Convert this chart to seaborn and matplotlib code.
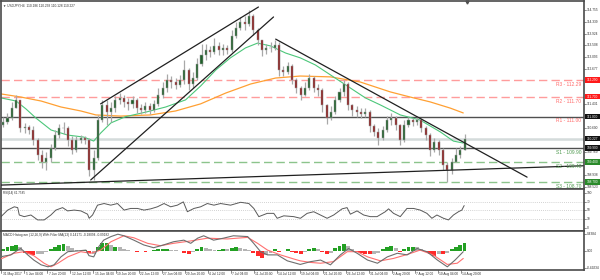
import matplotlib
matplotlib.use("Agg")
import matplotlib.pyplot as plt
import matplotlib.patches as mpatches
import numpy as np
import pandas as pd
import seaborn as sns

sns.set_theme(style="white")
plt.rcParams['font.family'] = ['Liberation Sans', 'DejaVu Sans']

# ---------------- data: 12-hour candles, USDJPY ----------------
first_open = 110.70
closes = [110.81, 110.95, 111.30, 111.59, 110.60, 110.64, 110.53, 110.18, 109.65, 109.40,
          109.54, 109.90, 110.35, 110.60, 110.60, 110.18, 109.83, 110.18, 110.25, 110.18,
          109.12, 109.54, 110.88, 111.41, 111.16, 111.30, 111.59, 111.66, 111.52, 111.45,
          111.59, 111.30, 111.23, 111.37, 111.23, 111.45, 111.76, 112.01, 112.29, 112.22,
          112.11, 112.29, 112.64, 112.15, 112.36, 112.85, 113.17, 113.35, 113.28, 113.49,
          113.35, 113.42, 113.35, 113.84, 114.12, 114.33, 114.26, 114.54, 114.05, 113.70,
          113.35, 113.42, 113.42, 113.52, 112.64, 112.57, 112.78, 112.29, 112.01, 111.76,
          112.01, 112.36, 112.01, 111.94, 111.41, 110.95, 111.16, 111.59, 111.87, 112.15,
          111.41, 111.23, 111.16, 111.09, 111.16, 110.67, 110.46, 110.25, 110.53, 110.88,
          110.95, 110.71, 110.18, 110.71, 110.88, 110.81, 110.88, 110.60, 110.35, 109.83,
          110.11, 109.83, 109.30, 109.12, 109.40, 109.65, 109.83, 110.23]
highs = [110.99, 111.13, 111.52, 111.76, 111.59, 110.78, 110.71, 110.67, 110.25, 109.83,
         109.76, 110.04, 110.53, 110.74, 110.81, 110.67, 110.32, 110.32, 110.35, 110.32,
         110.25, 109.83, 111.06, 111.59, 111.59, 111.52, 111.73, 111.83, 111.76, 111.66,
         111.73, 111.66, 111.45, 111.52, 111.48, 111.59, 112.01, 112.22, 112.50, 112.43,
         112.36, 112.47, 112.99, 112.71, 112.57, 113.06, 113.56, 113.56, 113.49, 113.77,
         113.63, 113.56, 113.52, 114.05, 114.33, 114.51, 114.54, 114.75, 114.61, 114.12,
         113.70, 113.56, 113.63, 113.70, 113.63, 112.78, 112.92, 112.85, 112.36, 112.08,
         112.22, 112.50, 112.43, 112.15, 112.01, 111.45, 111.38, 111.73, 112.01, 112.29,
         112.22, 111.45, 111.38, 111.30, 111.30, 111.23, 110.74, 110.60, 110.67, 111.02,
         111.13, 111.02, 110.74, 110.88, 110.99, 110.95, 111.02, 110.95, 110.67, 110.42,
         110.25, 110.18, 109.90, 109.40, 109.54, 109.90, 109.97, 110.39]
lows = [110.64, 110.74, 110.88, 111.30, 110.46, 110.42, 110.39, 110.00, 109.47, 109.19,
        109.12, 109.40, 109.83, 110.25, 110.39, 109.97, 109.68, 109.76, 110.07, 110.04,
        108.91, 108.77, 109.47, 110.81, 110.71, 110.81, 111.16, 111.45, 111.34, 111.23,
        111.30, 111.13, 111.09, 111.13, 111.09, 111.16, 111.37, 111.66, 111.87, 112.01,
        111.97, 112.04, 112.15, 111.94, 112.01, 112.29, 112.78, 112.99, 113.10, 113.21,
        113.17, 113.17, 113.21, 113.28, 113.77, 114.05, 114.05, 114.19, 113.88, 113.52,
        113.14, 113.21, 113.28, 113.35, 112.43, 112.43, 112.50, 112.15, 111.83, 111.59,
        111.73, 111.94, 111.87, 111.73, 111.16, 110.74, 110.88, 111.09, 111.52, 111.73,
        111.23, 111.02, 110.99, 110.95, 110.99, 110.46, 110.32, 110.00, 110.18, 110.46,
        110.71, 110.53, 110.00, 110.11, 110.64, 110.67, 110.71, 110.46, 110.18, 109.61,
        109.76, 109.65, 109.12, 108.70, 108.98, 109.40, 109.54, 109.83]
opens = [first_open] + closes[:-1]

# moving averages (positions in 12h-bar units)
ma_fast_x = [0, 3.5, 5.8, 8.1, 11.6, 15.5, 19.2, 21.5, 23.1, 25.5, 28.9, 33.6, 38.2, 42.8, 46.3, 49.8,
             53.2, 56.7, 59.5, 62.5, 66.0, 69.4, 72.9, 77.1, 81.0, 84.5, 88.0, 92.6, 97.2, 101.9, 104.9, 107.2]
ma_fast_y = [111.66, 111.55, 111.27, 110.95, 110.53, 110.35, 110.28, 110.14, 110.42, 110.78, 111.00, 111.16,
             111.34, 111.59, 112.08, 112.64, 113.07, 113.42, 113.59, 113.49, 113.24, 113.07, 112.82, 112.40,
             112.01, 111.66, 111.41, 111.06, 110.88, 110.46, 110.14, 110.07]
ma_slow_x = [0, 4.6, 9.3, 13.9, 18.5, 22.0, 27.8, 34.7, 40.5, 46.3, 52.1, 57.9, 63.7, 69.4, 76.4, 83.3,
             90.3, 94.9, 99.5, 104.2, 107.2]
ma_slow_y = [111.80, 111.69, 111.55, 111.34, 111.20, 111.06, 111.02, 111.06, 111.20, 111.45, 111.83,
             112.15, 112.36, 112.43, 112.40, 112.22, 111.87, 111.69, 111.52, 111.30, 111.13]

# levels
level_names = ["R3", "R2", "R1", "S1", "S2", "S3"]
level_values = [112.29, 111.70, 111.00, 109.90, 109.40, 108.70]
last_price = 110.227

# trendlines (x in 12h-bar units, price)
trend_x = [[23.1, 59.7], [20.8, 63.2], [63.7, 122.0], [0.0, 135.0]]
trend_y = [[111.45, 114.86], [108.77, 114.51], [113.73, 108.87], [108.59, 109.27]]

# price axis labels
price_ticks = [114.755, 114.339, 113.924, 113.508, 113.093, 112.677, 111.431, 110.600, 109.769, 108.938, 108.523]

# RSI(14)
rsi_x = [0, 1.55, 3.08, 3.87, 4.24, 5.39, 6.94, 8.50, 10.02, 11.57, 12.73, 14.28, 15.44, 16.97, 18.52,
         20.07, 20.44, 21.23, 22.38, 23.91, 25.46, 27.01, 28.54, 30.09, 31.64, 33.17, 34.72, 36.27,
         37.80, 39.35, 40.90, 42.29, 43.22, 44.75, 46.30, 47.85, 49.38, 50.93, 53.24, 55.56, 57.48,
         58.63, 59.79, 61.74, 63.26, 64.05, 65.58, 67.89, 69.44, 70.99, 72.52, 74.07, 75.63, 77.15,
         79.10, 80.25, 81.02, 82.57, 84.10, 85.65, 87.20, 89.12, 89.88, 91.04, 92.59, 94.14, 95.67,
         97.22, 98.77, 99.93, 101.09, 102.62, 103.77, 104.93, 106.09, 106.87, 107.41]
rsi_v = [35, 51, 59, 57, 39, 35, 39, 27, 27, 39, 51, 57, 49, 51, 49, 41, 31, 39, 63, 67, 63, 67, 51, 55,
         55, 51, 54, 59, 67, 59, 63, 71, 47, 55, 59, 67, 63, 67, 63, 70, 67, 55, 35, 43, 43, 31, 37, 35,
         31, 43, 47, 39, 31, 39, 54, 57, 41, 49, 39, 35, 35, 47, 54, 43, 35, 55, 55, 51, 43, 31, 39, 31,
         27, 39, 47, 51, 62]
rsi_levels = [70, 50, 30]

# MACD
macd_x = [0, 2.3, 3.9, 4.6, 6.2, 7.6, 9.3, 10.9, 12.3, 13.9, 15.5, 17.8, 19.7, 20.4, 21.5, 22.7, 23.8,
          25.5, 27.1, 28.5, 30.8, 33.1, 35.4, 37.7, 40.0, 42.4, 44.0, 45.6, 47.0, 49.3, 51.6, 53.9, 57.2,
          58.6, 60.2, 61.8, 64.1, 66.4, 69.4, 71.8, 74.1, 76.4, 78.7, 80.6, 82.6, 85.0, 87.3, 89.6, 91.9,
          94.2, 96.5, 98.8, 101.2, 103.5, 105.3, 107.2]
macd_v = [-0.155, -0.11, 0.01, 0.05, -0.11, -0.24, -0.36, -0.41, -0.36, -0.16, -0.03, -0.01, 0.01, -0.13,
          -0.16, 0.10, 0.26, 0.35, 0.41, 0.37, 0.26, 0.14, 0.07, 0.14, 0.22, 0.26, 0.18, 0.31, 0.37, 0.26,
          0.31, 0.37, 0.35, 0.18, -0.03, -0.11, -0.11, -0.26, -0.35, -0.28, -0.24, -0.36, -0.11, 0.05,
          -0.07, -0.24, -0.32, -0.16, -0.07, -0.11, 0.05, -0.03, -0.24, -0.41, -0.24, -0.03]
signal_x = [0, 3.0, 5.3, 7.6, 10.0, 11.6, 13.2, 15.5, 18.5, 20.8, 23.1, 25.5, 28.5, 30.8, 34.0, 37.0, 40.0,
            44.0, 47.9, 52.5, 57.2, 59.5, 61.8, 64.8, 67.8, 69.4, 71.8, 74.1, 77.1, 80.3, 82.6, 85.0, 88.0,
            91.0, 94.2, 97.2, 100.2, 103.5, 105.8, 107.2]
signal_v = [-0.21, -0.07, -0.03, -0.13, -0.32, -0.41, -0.32, -0.16, -0.03, -0.07, 0.01, 0.22, 0.37, 0.32,
            0.18, 0.12, 0.18, 0.24, 0.31, 0.29, 0.33, 0.18, 0.01, -0.11, -0.21, -0.26, -0.30, -0.32, -0.28,
            -0.03, -0.03, -0.16, -0.26, -0.20, -0.10, 0.01, -0.11, -0.35, -0.32, -0.20]
hist_v = [0.04, 0.08, 0.12, 0.14, 0.10, -0.06, -0.10, -0.12, -0.10, -0.08,
          -0.04, 0.04, 0.10, 0.14, 0.16, 0.12, 0.06, 0.02, -0.02, 0.02,
          -0.06, -0.08, 0.10, 0.20, 0.18, 0.14, 0.10, 0.08, 0.04, 0.02,
          -0.02, -0.04, -0.02, -0.03, -0.02, 0.02, 0.03, 0.04, 0.05, 0.02,
          0.01, -0.02, -0.06, -0.08, -0.04, 0.04, 0.08, 0.06, 0.03, 0.01,
          0.02, 0.04, 0.03, 0.06, 0.08, 0.06, 0.04, 0.02, -0.06, -0.14,
          -0.18, -0.12, -0.06, 0.04, -0.04, -0.02, 0.03, -0.03, -0.06, -0.08,
          -0.04, 0.04, 0.06, 0.03, -0.04, -0.08, -0.06, 0.06, 0.12, 0.16,
          0.12, 0.04, -0.04, -0.06, -0.08, -0.10, -0.08, -0.06, 0.04, 0.10,
          0.12, 0.06, -0.04, 0.04, 0.08, 0.10, 0.08, 0.04, -0.04, -0.10,
          -0.14, -0.10, -0.08, -0.06, 0.04, 0.10, 0.14, 0.20]
hist_c = list("ggggnrrrnn" "nggggnnnrg" "rngggngnnn" "rrnrnggggn" "nrrrnggnnn"
              "ggnggnnnrr" "rnngrngrrr" "nggnrrnggg" "nnrrrrnngg" "gnrgggnnrr" "rnrngggg")

date_labels = ["31 May 2017", "5 Jun 04:00", "7 Jun 20:00", "12 Jun 12:00", "15 Jun 04:00",
               "19 Jun 20:00", "22 Jun 12:00", "27 Jun 04:00", "29 Jun 20:00", "4 Jul 12:00",
               "7 Jul 04:00", "11 Jul 20:00", "14 Jul 12:00", "19 Jul 04:00", "21 Jul 20:00",
               "26 Jul 12:00", "31 Jul 04:00", "2 Aug 20:00", "7 Aug 12:00", "10 Aug 04:00",
               "14 Aug 20:00"]

title_main = "USDJPY,H4  110.186 110.238 110.128 110.227"
title_rsi = "RSI(14) 61.7585"
title_macd = "MACD Histogram (12,26,9) With Filter MA(13) 0.14171 -0.18094 -0.09182"

# ---------------- figure ----------------
W, H = 600, 280
fig = plt.figure(figsize=(6, 2.8), dpi=100)
fig.patch.set_facecolor("white")


def rect(x0, y0, x1, y1):
    return [x0 / W, 1 - y1 / H, (x1 - x0) / W, (y1 - y0) / H]


ax = fig.add_axes(rect(1, 1, 584, 189))
ax_rsi = fig.add_axes(rect(1, 189, 584, 231))
ax_macd = fig.add_axes(rect(1, 231, 584, 270))
XMAX = 135.2
for a in (ax, ax_rsi, ax_macd):
    a.set_xlim(0, XMAX)
    a.set_xticks([])
    a.set_yticks([])
    a.set_facecolor("white")
    for s in a.spines.values():
        s.set_color("#4a4a4a")
        s.set_linewidth(1.2)

ax.set_ylim(108.452, 115.072)
TXT = "#303030"
FS = 2.3

# levels
ytr = ax.get_yaxis_transform()
for name, v in zip(level_names, level_values):
    if name.startswith("R"):
        lcol, tcol = "#ff9c9c", "#ff6a6a"
        ls = (0, (6, 3)) if name != "R1" else "-"
    else:
        lcol, tcol = "#8cc48c", "#4f9a4f"
        ls = (0, (6, 3)) if name != "S1" else "-"
    if name in ("R1", "S1"):
        lcol = "#505050"
    ax.axhline(v, color=lcol, lw=1.0, ls=ls, zorder=1.5)
    ax.text(134.6, v - 0.15, f"{name} - {v:.2f}", ha="right", va="center",
            fontsize=3.5, color=tcol, zorder=6)
ax.axhline(last_price, color="#d4dbdb", lw=1.8, zorder=1.2)

# moving averages
sns.lineplot(x=ma_slow_x, y=ma_slow_y, ax=ax, color="#ffa033", lw=0.9, zorder=2.5, estimator=None)
sns.lineplot(x=ma_fast_x, y=ma_fast_y, ax=ax, color="#4cc77a", lw=0.8, zorder=2.5, estimator=None)

# candles
df = pd.DataFrame({"x": np.arange(len(closes)) + 0.5, "o": opens, "h": highs, "l": lows, "c": closes})
ax.vlines(df["x"], df["l"], df["h"], color="#a8a8a8", lw=0.9, zorder=3)
up = df["c"] >= df["o"]
ax.bar(df["x"][up], (df["c"] - df["o"])[up], bottom=df["o"][up], width=0.48,
       color="#1f5f2a", edgecolor="#a0a0a0", linewidth=0.35, zorder=3.2)
ax.bar(df["x"][~up], (df["c"] - df["o"])[~up], bottom=df["o"][~up], width=0.48,
       color="#8a1c1c", edgecolor="#a0a0a0", linewidth=0.35, zorder=3.2)

# trendlines
for tx, ty in zip(trend_x, trend_y):
    sns.lineplot(x=tx, y=ty, ax=ax, color="#202020", lw=0.9, zorder=4, estimator=None)
ax.set_xlim(0, XMAX)
ax.set_ylim(108.452, 115.072)
ax.set_xlabel("")
ax.set_ylabel("")

# price axis labels
for p in price_ticks:
    ax.text(1.005, p, f"{p:.3f}", transform=ytr, fontsize=FS, va="center", ha="left",
            color=TXT, clip_on=False)
    ax.plot([1.0, 1.004], [p, p], transform=ytr, color="#606060", lw=0.5, clip_on=False)
box_vals = [112.29, 111.70, 111.00, last_price, 109.90, 109.40, 108.70]
box_cols = ["#ff1a1a", "#ff1a1a", "#111111", "#111111", "#111111", "#2a8a2a", "#2a8a2a"]
for v, c in zip(box_vals, box_cols):
    ax.add_patch(mpatches.Rectangle((1.002, v - 0.095), 0.027, 0.19, transform=ytr,
                                    facecolor=c, edgecolor="none", clip_on=False, zorder=7))
    ax.text(1.005, v, f"{v:.3f}", transform=ytr, fontsize=FS, va="center", ha="left",
            color="white", clip_on=False, zorder=8)

ax.text(0.004, 0.978, "\u25bc " + title_main, transform=ax.transAxes, fontsize=2.3,
        color=TXT, va="center", ha="left", family=["Liberation Sans", "DejaVu Sans"])
ax.plot([108.1], [115.03], marker="v", color="#505050", markersize=2.2, clip_on=False, zorder=8)

# ---------------- RSI ----------------
ax_rsi.set_ylim(0, 102.4)
for lv in rsi_levels:
    ax_rsi.axhline(lv, color="#c4c4c4", lw=0.6, ls=(0, (1, 1.5)))
sns.lineplot(x=rsi_x, y=rsi_v, ax=ax_rsi, color="#595959", lw=0.7, estimator=None)
ax_rsi.set_xlim(0, XMAX)
ax_rsi.set_ylim(0, 102.4)
ax_rsi.set_xlabel("")
ax_rsi.set_ylabel("")
ax_rsi.text(0.004, 0.90, title_rsi, transform=ax_rsi.transAxes, fontsize=2.2, color=TXT,
            va="center", ha="left")
rtr = ax_rsi.get_yaxis_transform()
for lab, pos in zip(["100", "70", "50", "30", "0"], [92, 70, 50, 30, 7]):
    ax_rsi.text(1.005, pos, lab, transform=rtr, fontsize=FS, va="center", ha="left",
                color=TXT, clip_on=False)
    ax_rsi.plot([1.0, 1.004], [pos, pos], transform=rtr, color="#606060", lw=0.5, clip_on=False)

# ---------------- MACD ----------------
ax_macd.set_ylim(-0.49, 0.49)
cmap = {"g": "#23a023", "r": "#ff2a2a", "n": "#b4b4b4"}
hx = np.arange(len(hist_v)) + 0.5
ax_macd.bar(hx, hist_v, width=0.9, color=[cmap[c] for c in hist_c], linewidth=0, zorder=2)
sns.lineplot(x=signal_x, y=signal_v, ax=ax_macd, color="#ff7070", lw=0.8, zorder=3, estimator=None)
sns.lineplot(x=macd_x, y=macd_v, ax=ax_macd, color="#6e6e6e", lw=0.8, zorder=3.5, estimator=None)
ax_macd.set_xlim(0, XMAX)
ax_macd.set_ylim(-0.49, 0.49)
ax_macd.set_xlabel("")
ax_macd.set_ylabel("")
ax_macd.text(0.004, 0.90, title_macd, transform=ax_macd.transAxes, fontsize=2.3, color=TXT,
             va="center", ha="left")
mtr = ax_macd.get_yaxis_transform()
for lab, pos in zip(["0.4384", "0.00", "-0.49234"], [0.41, 0.0, -0.44]):
    ax_macd.text(1.005, pos, lab, transform=mtr, fontsize=FS, va="center", ha="left",
                 color=TXT, clip_on=False)
    ax_macd.plot([1.0, 1.004], [pos, pos], transform=mtr, color="#606060", lw=0.5, clip_on=False)

# date labels
xtr = ax_macd.get_xaxis_transform()
for k, lab in enumerate(date_labels):
    xp = 16 * k / 3
    ax_macd.plot([xp, xp], [0, -0.07], transform=xtr, color="#606060", lw=0.5, clip_on=False)
    ax_macd.text(xp + 0.35, -0.11, lab, transform=xtr, fontsize=FS, va="center", ha="left",
                 color=TXT, clip_on=False)

fig.savefig("out.png", dpi=100, facecolor="white")
